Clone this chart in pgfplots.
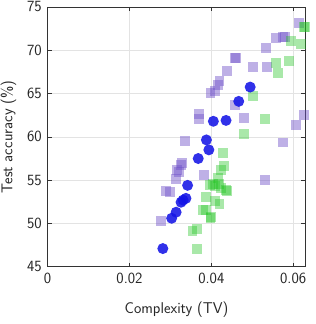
\documentclass[border=0pt]{standalone}
\usepackage{fontspec}
\usepackage{pgfplots}
\pgfplotsset{compat=1.18}
\definecolor{cblue}{RGB}{20,20,230}
\definecolor{cpurple}{RGB}{110,80,200}
\definecolor{cgreen}{RGB}{30,195,30}
\begin{document}
\begin{tikzpicture}
\begin{axis}[
  scale only axis,
  width=258pt, height=260pt,
  xmin=0, xmax=0.063, ymin=45, ymax=75,
  xtick={0,0.02,0.04,0.06},
  ytick={45,50,55,60,65,70,75},
  xticklabels={0,0.02,0.04,0.06},
  scaled x ticks=false,
  tick pos=both, tick align=inside,
  major tick length=4pt,
  grid=major,
  grid style={gray!22, line width=0.6pt},
  axis line style={black!80, line width=0.7pt},
  every tick/.style={black!80, line width=0.6pt},
  font=\fontsize{15.6}{18}\selectfont\sffamily,
  tick label style={font=\fontsize{15.6}{18}\selectfont\sffamily, black!85, inner sep=0pt},
  label style={black!85, inner sep=0pt},
  /pgf/number format/assume math mode=true,
  xticklabel style={yshift=-6.3pt},
  yticklabel style={xshift=-5.7pt},
  xlabel={Complexity (TV)},
  ylabel={Test accuracy (\%)},
  xlabel style={at={(axis description cs:0.5,-0.1646)}, anchor=center},
  ylabel style={at={(axis description cs:-0.152,0.5)}, anchor=center},
]
\addplot[only marks, mark=square*, mark size=5pt,
  mark options={fill=cpurple, fill opacity=0.45, draw opacity=0}]
coordinates {
(0.0277,50.3) (0.0290,53.8) (0.0298,53.6) (0.0313,55.1) (0.0315,56.2)
(0.0320,56.0) (0.0326,56.8) (0.0329,57.0) (0.0335,59.5) (0.0369,62.6)
(0.0369,62.1) (0.0383,55.6) (0.0398,65.1) (0.0409,65.3) (0.0416,66.0)
(0.0420,66.4) (0.0438,67.6) (0.0459,69.1) (0.0461,69.15) (0.0457,63.7)
(0.0479,62.2) (0.0502,68.1) (0.0533,70.3) (0.0537,68.1) (0.0531,55.0)
(0.0557,71.4) (0.0576,71.5) (0.0580,71.55) (0.0574,59.35) (0.0606,61.35)
(0.0615,73.15) (0.0626,62.5)
};
\addplot[only marks, mark=square*, mark size=5pt,
  mark options={fill=cgreen, fill opacity=0.38, draw opacity=0}]
coordinates {
(0.0365,47.0) (0.0354,49.1) (0.0365,49.4) (0.0379,51.6) (0.0387,51.6)
(0.0387,53.0) (0.0398,50.6) (0.0399,50.7) (0.0396,54.4) (0.0404,54.5)
(0.0408,54.3) (0.0410,52.6) (0.0416,55.2) (0.0418,54.6) (0.0420,52.3)
(0.0424,54.1) (0.0423,56.2) (0.0430,56.6) (0.0428,58.15) (0.0435,53.9)
(0.0438,53.8) (0.0479,60.35) (0.0501,64.7) (0.0531,62.1) (0.0557,68.55)
(0.0563,67.4) (0.0590,68.75) (0.0595,71.1) (0.0619,70.75) (0.0626,72.7)
(0.0628,72.65)
};
\addplot[only marks, mark=*, mark size=5.5pt,
  mark options={fill=cblue, fill opacity=0.88, draw opacity=0}]
coordinates {
(0.02815,47.1) (0.0303,50.6) (0.0314,51.3) (0.0326,52.45) (0.0331,52.7)
(0.0338,52.9) (0.0342,54.4) (0.0368,57.5) (0.0394,58.5) (0.0388,59.65)
(0.0405,61.8) (0.0436,61.9) (0.0467,64.1) (0.0495,65.75)
};
\end{axis}
\pgfresetboundingbox
\path ([shift={(-47.7pt,-57.3pt)}]current axis.south west) rectangle ([shift={(10pt,7pt)}]current axis.north east);
\end{tikzpicture}
\end{document}
